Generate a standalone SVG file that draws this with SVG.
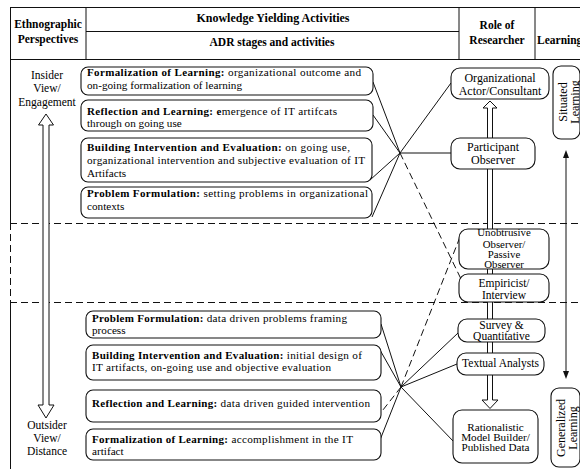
<svg xmlns="http://www.w3.org/2000/svg" width="580" height="469" viewBox="0 0 580 469">
<style>
  text { font-family: "Liberation Serif", "Times New Roman", serif; fill: #000; }
  .h { font-weight: bold; font-size: 11.5px; }
  .hc { text-anchor: middle; }
  .t { font-size: 11.2px; }
  .b { font-weight: bold; font-size: 11px; }
  .lab { font-size: 11.5px; text-anchor: middle; }
  .r { font-size: 10.8px; text-anchor: middle; }
  .r2 { font-size: 11.5px; text-anchor: middle; }
  .r12 { font-size: 12px; text-anchor: middle; }
  .box { fill: #fff; stroke: #111; stroke-width: 1.1; }
  .ln { stroke: #111; stroke-width: 1; fill: none; }
  .dash { stroke: #111; stroke-width: 1; stroke-dasharray: 7 4; fill: none; }
  .hol { fill: #fff; stroke: #111; stroke-width: 1; }
  .blk { fill: #111; stroke: none; }
</style>

<g id="table">
  <path class="ln" d="M10,7.5 H580 M10,59.5 H580 M86,31.5 H459 M10.5,7 V223 M10.5,302 V469 M86,7 V60 M459,7 V60 M535,7 V60"/>
  <path class="dash" d="M10,223.5 H580 M10,302.5 H580 M10.5,223 V302"/>
  <text class="h hc" x="48" y="28">Ethnographic</text>
  <text class="h hc" x="48" y="43">Perspectives</text>
  <text class="h hc" x="273" y="22" style="font-size:12px">Knowledge Yielding Activities</text>
  <text class="h hc" x="272" y="46">ADR stages and activities</text>
  <text class="h hc" x="497" y="29">Role of</text>
  <text class="h hc" x="497" y="44">Researcher</text>
  <text class="h" x="537" y="44">Learning</text>
</g>

<g id="perspective-axis">
  <path class="hol" d="M43,405 V125 H38.5 L46,114 L53.5,125 H49 V405 H54 L46,418 L38,405 Z"/>
  <text class="lab" x="47" y="79">Insider</text>
  <text class="lab" x="47" y="92">View/</text>
  <text class="lab" x="47" y="106">Engagement</text>
  <text class="lab" x="47" y="429">Outsider</text>
  <text class="lab" x="47" y="442">View/</text>
  <text class="lab" x="47" y="455">Distance</text>
</g>

<g id="connectors">
  <path class="ln" d="M400,153 L373,82 M400,153 L373,115 M400,153 L370,180 M400,153 L372,217 M400,153 L451,153 M400,153 L451,83"/>
  <path class="dash" d="M400,153 L461,279"/>
  <path class="ln" d="M401,387 L381,324 M401,387 L380,350 M401,387 L380,440 M401,387 L458,333 M401,387 L457,364 M401,387 L454,442"/>
  <path class="dash" d="M401,387 L379,415 M401,387 L460,237"/>
  <path class="hol" d="M487.5,400 V108 H483 L490,101 L497,108 H492.5 V400 H498 L490,408.5 L482,400 Z"/>
  <line class="ln" x1="566" y1="156" x2="566" y2="373"/>
  <polygon class="blk" points="566,150 563,158 569,158"/>
  <polygon class="blk" points="566,379 563,371 569,371"/>
</g>

<g id="upper-formalization">
  <rect class="box" x="81" y="67" width="292" height="28" rx="7"/>
  <text class="t" x="87" y="76" textLength="274" lengthAdjust="spacing"><tspan class="b">Formalization of Learning:</tspan> organizational outcome and</text>
  <text class="t" x="87" y="89">on-going formalization of learning</text>
</g>
<g id="upper-reflection">
  <rect class="box" x="81" y="100" width="292" height="31" rx="7"/>
  <text class="t" x="87" y="115" textLength="250" lengthAdjust="spacing"><tspan class="b">Reflection and Learning: e</tspan>mergence of IT artifcats</text>
  <text class="t" x="87" y="127">through on going use</text>
</g>
<g id="upper-building">
  <rect class="box" x="81" y="138" width="291" height="44" rx="7"/>
  <text class="t" x="87" y="151" textLength="263" lengthAdjust="spacing"><tspan class="b">Building Intervention and Evaluation:</tspan> on going use,</text>
  <text class="t" x="87" y="164" textLength="278" lengthAdjust="spacing">organizational intervention and subjective evaluation of IT</text>
  <text class="t" x="87" y="177">Artifacts</text>
</g>
<g id="upper-problem">
  <rect class="box" x="81" y="187" width="291" height="31" rx="7"/>
  <text class="t" x="87" y="197" textLength="281" lengthAdjust="spacing"><tspan class="b">Problem Formulation:</tspan> setting problems in organizational</text>
  <text class="t" x="87" y="210">contexts</text>
</g>

<g id="lower-problem">
  <rect class="box" x="86" y="311" width="295" height="27" rx="7"/>
  <text class="t" x="92" y="322" textLength="255" lengthAdjust="spacing"><tspan class="b">Problem Formulation:</tspan> data driven problems framing</text>
  <text class="t" x="92" y="334">process</text>
</g>
<g id="lower-building">
  <rect class="box" x="86" y="345" width="295" height="35" rx="7"/>
  <text class="t" x="92" y="359" textLength="270" lengthAdjust="spacing"><tspan class="b">Building Intervention and Evaluation:</tspan> initial design of</text>
  <text class="t" x="92" y="371" textLength="239" lengthAdjust="spacing">IT artifacts, on-going use and objective evaluation</text>
</g>
<g id="lower-reflection">
  <rect class="box" x="86" y="390" width="295" height="32" rx="7"/>
  <text class="t" x="92" y="407" textLength="278" lengthAdjust="spacing"><tspan class="b">Reflection and Learning:</tspan> data driven guided intervention</text>
</g>
<g id="lower-formalization">
  <rect class="box" x="86" y="429" width="295" height="31" rx="7"/>
  <text class="t" x="92" y="443" textLength="261" lengthAdjust="spacing"><tspan class="b">Formalization of Learning:</tspan> accomplishment in the IT</text>
  <text class="t" x="92" y="455">artifact</text>
</g>

<g id="role-actor">
  <rect class="box" x="451" y="68" width="98" height="31" rx="9"/>
  <text class="r12" x="500" y="82">Organizational</text>
  <text class="r12" x="500" y="95">Actor/Consultant</text>
</g>
<g id="role-participant">
  <rect class="box" x="451" y="138" width="84" height="31" rx="9"/>
  <text class="r12" x="493" y="151">Participant</text>
  <text class="r12" x="493" y="164">Observer</text>
</g>
<g id="role-unobtrusive">
  <rect class="box" x="459" y="229" width="90" height="40" rx="9"/>
  <text class="r" x="504" y="236">Unobtrusive</text>
  <text class="r" x="504" y="247.5">Observer/</text>
  <text class="r" x="504" y="257.5">Passive</text>
  <text class="r" x="504" y="267.5">Observer</text>
</g>
<g id="role-empiricist">
  <rect class="box" x="459" y="274" width="90" height="28" rx="9"/>
  <text class="r2" x="504" y="287">Empiricist/</text>
  <text class="r2" x="504" y="299">Interview</text>
</g>
<g id="role-survey">
  <rect class="box" x="458" y="319" width="87" height="23" rx="9"/>
  <text class="r2" x="501.5" y="329">Survey &amp;</text>
  <text class="r2" x="501.5" y="339.5">Quantitative</text>
</g>
<g id="role-textual">
  <rect class="box" x="457" y="353" width="87" height="22" rx="9"/>
  <text class="r2" x="500.5" y="367">Textual Analysts</text>
</g>
<g id="role-rationalistic">
  <rect class="box" x="453" y="410" width="85" height="53" rx="9"/>
  <text class="r" x="495.5" y="430.5" style="font-size:11.2px">Rationalistic</text>
  <text class="r" x="495.5" y="440.5" style="font-size:11.2px">Model Builder/</text>
  <text class="r" x="495.5" y="451" style="font-size:11.2px">Published Data</text>
</g>

<g id="learning-situated">
  <rect class="box" x="553" y="66" width="27" height="73" rx="8"/>
  <text class="r12" transform="translate(567,102) rotate(-90)">Situated</text>
  <text class="r12" transform="translate(578.5,102) rotate(-90)">Learning</text>
</g>
<g id="learning-generalized">
  <rect class="box" x="551" y="388" width="29" height="79" rx="8"/>
  <text class="r12" transform="translate(565,428) rotate(-90)">Generalized</text>
  <text class="r12" transform="translate(577,428) rotate(-90)">Learning</text>
</g>
</svg>
